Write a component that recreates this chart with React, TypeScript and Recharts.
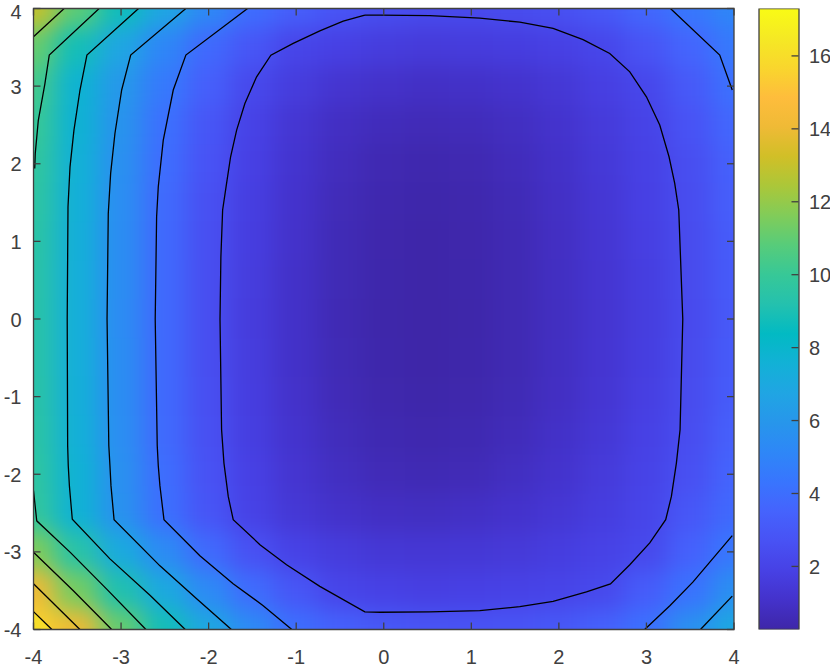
import { Bar, ComposedChart, Scatter, ScatterChart, XAxis, YAxis } from 'recharts';

const gridX = [-4, -3.5, -3, -2.5, -2, -1.5, -1, -0.5, 0, 0.5, 1, 1.5, 2, 2.5, 3, 3.5, 4];
const gridY = [4, 3.5, 3, 2.5, 2, 1.5, 1, 0.5, 0, -0.5, -1, -1.5, -2, -2.5, -3, -3.5, -4];

// surface values, one row per gridY entry
const heatRows = [
  [13.0, 10.9, 8.7, 6.8, 5.27, 3.95, 3.3, 2.8, 2.5, 2.3, 2.3, 2.4, 2.6, 3.0, 3.7, 4.4, 5.1],
  [11.1, 8.8, 6.8, 5.1, 3.8, 2.9, 2.1, 1.85, 1.65, 1.55, 1.6, 1.7, 1.85, 2.15, 2.8, 3.6, 4.5],
  [10.3, 7.75, 6.05, 4.5, 3.3, 2.25, 1.65, 1.25, 1.05, 0.95, 1.0, 1.15, 1.4, 1.8, 2.2, 3.1, 4.1],
  [10.0, 7.7, 5.8, 4.1, 2.9, 1.95, 1.3, 0.9, 0.7, 0.62, 0.68, 0.85, 1.15, 1.55, 2.0, 2.75, 3.7],
  [9.75, 7.55, 5.6, 3.95, 2.75, 1.85, 1.2, 0.75, 0.5, 0.42, 0.48, 0.7, 1.0, 1.45, 1.9, 2.5, 3.4],
  [9.6, 7.5, 5.5, 3.85, 2.6, 1.75, 1.1, 0.65, 0.4, 0.33, 0.38, 0.6, 0.95, 1.35, 1.85, 2.45, 3.3],
  [9.5, 7.45, 5.45, 3.8, 2.55, 1.7, 1.05, 0.6, 0.36, 0.3, 0.36, 0.55, 0.9, 1.3, 1.8, 2.4, 3.2],
  [9.45, 7.4, 5.45, 3.8, 2.5, 1.65, 1.0, 0.58, 0.33, 0.28, 0.33, 0.53, 0.87, 1.27, 1.75, 2.35, 3.15],
  [9.4, 7.4, 5.4, 3.8, 2.5, 1.6, 1.0, 0.55, 0.32, 0.27, 0.32, 0.52, 0.85, 1.25, 1.72, 2.33, 3.1],
  [9.4, 7.4, 5.45, 3.8, 2.5, 1.65, 1.0, 0.58, 0.33, 0.28, 0.33, 0.53, 0.87, 1.27, 1.75, 2.35, 3.15],
  [9.45, 7.45, 5.45, 3.8, 2.55, 1.7, 1.05, 0.62, 0.38, 0.32, 0.38, 0.58, 0.9, 1.3, 1.8, 2.4, 3.2],
  [9.5, 7.5, 5.5, 3.85, 2.6, 1.75, 1.15, 0.72, 0.47, 0.4, 0.47, 0.68, 1.0, 1.4, 1.88, 2.47, 3.35],
  [9.6, 7.65, 5.6, 3.95, 2.7, 1.85, 1.25, 0.85, 0.62, 0.55, 0.62, 0.85, 1.15, 1.55, 2.0, 2.6, 3.55],
  [9.8, 7.65, 5.7, 4.05, 2.85, 1.95, 1.4, 1.05, 0.9, 0.85, 0.95, 1.1, 1.35, 1.7, 2.1, 2.95, 3.8],
  [11.6, 9.4, 7.1, 5.35, 3.85, 2.65, 1.95, 1.6, 1.4, 1.35, 1.4, 1.5, 1.7, 1.95, 2.25, 3.4, 4.4],
  [14.1, 11.4, 9.1, 7.0, 5.3, 3.9, 2.9, 2.1, 1.9, 1.8, 1.85, 1.95, 2.05, 2.25, 3.2, 4.2, 5.55],
  [15.6, 14.0, 11.1, 8.8, 6.9, 5.3, 4.0, 3.4, 3.0, 2.8, 2.75, 2.8, 3.0, 3.4, 4.1, 5.6, 6.95],
];

const ticks = [-4, -3, -2, -1, 0, 1, 2, 3, 4];
const colorbarTicks = [2, 4, 6, 8, 10, 12, 14, 16];
const colorMin = 0.27;
const colorMax = 17.3;

const parula = [
  '#3e26a8', '#4432cb', '#4741e5', '#4852f4', '#4563fd', '#3875fe', '#2e87f7', '#2796eb',
  '#20a5e3', '#12b1d6', '#02bac3', '#24c1ae', '#37c897', '#57cc7a', '#81cc59', '#abc739',
  '#d1bf27', '#efba36', '#febd3c', '#f9d62d', '#f5e924', '#f9fb15',
];

// contour lines, [x, y]
const contourInner = [
  [-0.216, 3.914], [-0.463, 3.837], [-0.73, 3.712], [-1.034, 3.55], [-1.289, 3.399], [-1.452, 3.12], [-1.586, 2.777],
  [-1.68, 2.434], [-1.749, 2.09], [-1.795, 1.748], [-1.84, 1.404], [-1.86, 0.8], [-1.87, 0], [-1.852, -1.427],
  [-1.825, -1.856], [-1.776, -2.286], [-1.719, -2.586], [-1.414, -2.907], [-1.11, -3.165], [-0.73, -3.444],
  [-0.216, -3.773], [-0.04, -3.778], [0.526, -3.773], [1.097, -3.757], [1.554, -3.705], [1.934, -3.637],
  [2.315, -3.516], [2.589, -3.413], [2.81, -3.165], [3.038, -2.885], [3.22, -2.586], [3.285, -2.286],
  [3.342, -1.856], [3.384, -1.427], [3.415, 0], [3.369, 1.404], [3.323, 1.748], [3.258, 2.09], [3.152, 2.498],
  [3.0, 2.862], [2.81, 3.184], [2.581, 3.421], [2.276, 3.6], [1.934, 3.743], [1.554, 3.824], [1.097, 3.875],
  [0.526, 3.907], [-0.04, 3.914], [-0.216, 3.914],
];
const contourA = [
  [-1.555, 4], [-2.26, 3.4], [-2.404, 2.95], [-2.518, 2.305], [-2.575, 1.704], [-2.594, 1.318], [-2.61, 0],
  [-2.587, -1.63], [-2.575, -1.89], [-2.556, -2.15], [-2.51, -2.585], [-2.1, -3.05], [-1.72, -3.41], [-1.38, -3.69], [-1.05, -4],
];
const contourB = [
  [-2.26, 4], [-2.89, 3.4], [-2.993, 2.95], [-3.07, 2.39], [-3.119, 1.876], [-3.146, 1.36], [-3.16, 0], [-3.14, -1.63],
  [-3.127, -1.89], [-3.115, -2.15], [-3.08, -2.585], [-2.556, -3.18], [-2.14, -3.6], [-1.74, -4],
];
const contourC = [
  [-2.8, 4], [-3.39, 3.4], [-3.469, 2.95], [-3.538, 2.434], [-3.583, 1.96], [-3.606, 1.447], [-3.615, 0], [-3.61, -1.63],
  [-3.603, -1.89], [-3.59, -2.15], [-3.557, -2.58], [-3.127, -3.09], [-2.67, -3.56], [-2.267, -4],
];
const contourD = [[-3.25, 4], [-3.82, 3.4], [-3.87, 3.03], [-3.945, 2.56], [-3.98, 2.13], [-3.986, 1.94]];
const contourE = [[-4, -2.21], [-3.963, -2.6], [-3.58, -3.006], [-3.164, -3.48], [-2.716, -4]];
const contourF = [[-3.65, 4], [-4, 3.635]];
const contourG = [[-4, -3.006], [-3.545, -3.5], [-3.107, -4]];
const contourH = [[-4, -3.41], [-3.47, -4]];
const contourI = [[-4, -3.77], [-3.79, -4]];
const contourJ = [[3.274, 4], [3.837, 3.4], [3.98, 2.95]];
const contourK = [[3.98, -2.79], [3.53, -3.39], [3.27, -3.69], [2.98, -4]];
const contourL = [[3.98, -3.57], [3.617, -4]];

const contours = [
  contourInner, contourA, contourB, contourC, contourD, contourE, contourF,
  contourG, contourH, contourI, contourJ, contourK, contourL,
];

// the small yellow peak in the lower left corner, under the last contour
const peakBand = [[-4, -3.885], [-3.895, -4]];
const frame = [[-4, -4], [4, -4], [4, 4], [-4, 4], [-4, -4]];

const colorbarData = [{ name: 'c', range: [colorMin, colorMax] }];

const cellW = 700.5 / 16;
const cellH = 621 / 16;
const tickLen = 7;
const axisStroke = 1.3;
const textColor = '#404040';
const fontFamily = '"Liberation Sans", Arial, sans-serif';

const toChannels = (hex: string) => [1, 3, 5].map((i) => parseInt(hex.slice(i, i + 2), 16));
const toPoints = (points: number[][]) => points.map(([x, y]) => ({ x, y }));

function valueColor(v: number) {
  const t = Math.min(Math.max((v - colorMin) / (colorMax - colorMin), 0), 1) * (parula.length - 1);
  const i = Math.min(Math.floor(t), parula.length - 2);
  const a = toChannels(parula[i]);
  const b = toChannels(parula[i + 1]);
  const c = a.map((ch, k) => Math.round(ch + (b[k] - ch) * (t - i)));
  return `rgb(${c[0]},${c[1]},${c[2]})`;
}

const heatCells = gridY.flatMap((y, r) => gridX.map((x, c) => ({ x, y, z: heatRows[r][c] })));

function HeatCell(props: any) {
  const { cx, cy, payload } = props;
  return (
    <rect
      x={cx - cellW / 2 - 0.5}
      y={cy - cellH / 2 - 0.5}
      width={cellW + 1}
      height={cellH + 1}
      fill={valueColor(payload.z)}
    />
  );
}

const NoMark = () => null;

// inward tick marks, drawn as scatter shapes at the axis positions
const tickShape = (dx: number, dy: number) => (props: any) => (
  <line x1={props.cx} y1={props.cy} x2={props.cx + dx * tickLen} y2={props.cy + dy * tickLen} stroke={textColor} strokeWidth={axisStroke} />
);
const UpTick = tickShape(0, -1);
const DownTick = tickShape(0, 1);
const RightTick = tickShape(1, 0);
const LeftwardTick = tickShape(-1, 0);

function Label({ x, y, anchor, value }: { x: number; y: number; anchor: 'start' | 'middle' | 'end'; value: number }) {
  return (
    <text x={x} y={y} textAnchor={anchor} fill={textColor} fontSize={20} fontFamily={fontFamily}>
      {value}
    </text>
  );
}

const BottomTick = (p: any) => <Label x={p.x} y={p.y} anchor="middle" value={p.payload.value} />;
const LeftTick = (p: any) => <Label x={p.x} y={p.y + (p.payload.value === 4 ? 10 : 7.5)} anchor="end" value={p.payload.value} />;

function ColorbarTick(p: any) {
  return (
    <g>
      <line x1={p.cx} y1={p.cy} x2={p.cx - tickLen} y2={p.cy} stroke={textColor} strokeWidth={axisStroke} />
      <Label x={p.cx + 10.5} y={p.cy + 7.5} anchor="start" value={p.payload.y} />
    </g>
  );
}

const layer = { position: 'absolute', left: 0, top: 0 } as const;

export default function App() {
  return (
    <div style={{ position: 'absolute', left: 0, top: 0, width: 830, height: 666, overflow: 'hidden', background: '#fff' }}>
      <style>{'.heat-layer { filter: url(#smooth); }'}</style>
      <svg width={0} height={0} style={{ position: 'absolute' }}>
        <defs>
          <filter id="smooth" filterUnits="userSpaceOnUse" x={-40} y={-40} width={910} height={746} colorInterpolationFilters="sRGB">
            <feGaussianBlur stdDeviation="12 11" />
            <feComponentTransfer>
              <feFuncA type="linear" slope={30} />
            </feComponentTransfer>
          </filter>
        </defs>
      </svg>

      {/* surface and contours */}
      <div style={layer}>
        <ScatterChart width={830} height={666} margin={{ top: 8.5, right: 96, bottom: 36.5, left: 33.5 }}>
          <XAxis hide type="number" dataKey="x" domain={[-4, 4]} allowDataOverflow />
          <YAxis hide type="number" dataKey="y" domain={[-4, 4]} allowDataOverflow />
          <Scatter data={heatCells} shape={HeatCell} className="heat-layer" isAnimationActive={false} />
          <Scatter
            data={toPoints(peakBand)}
            line={{ stroke: '#f7dd2a', strokeWidth: 13, strokeLinecap: 'square' }}
            shape={NoMark}
            isAnimationActive={false}
          />
          {contours.map((points, i) => (
            <Scatter
              key={i}
              data={toPoints(points)}
              line={{ stroke: '#000', strokeWidth: 1.3 }}
              shape={NoMark}
              isAnimationActive={false}
            />
          ))}
        </ScatterChart>
      </div>

      {/* colorbar */}
      <div style={layer}>
        <ComposedChart
          width={830}
          height={666}
          data={colorbarData}
          barCategoryGap={0}
          margin={{ top: 8.5, right: 31.5, bottom: 36.5, left: 759 }}
        >
          <defs>
            <linearGradient id="cbar" x1="0" y1="1" x2="0" y2="0">
              {parula.map((c, i) => (
                <stop key={c} offset={i / (parula.length - 1)} stopColor={c} />
              ))}
            </linearGradient>
          </defs>
          <XAxis dataKey="name" hide />
          <YAxis hide type="number" domain={[colorMin, colorMax]} allowDataOverflow />
          <Bar dataKey="range" fill="url(#cbar)" stroke={textColor} strokeWidth={axisStroke} isAnimationActive={false} />
        </ComposedChart>
      </div>

      {/* frame, ticks and labels sit in a chart of their own, above the surface */}
      <div style={layer}>
        <ScatterChart width={830} height={666} margin={{ top: 8.5, right: 96, bottom: 0, left: 0 }}>
          <XAxis
            type="number"
            dataKey="x"
            domain={[-4, 4]}
            ticks={ticks}
            interval={0}
            height={36.5}
            tickLine={false}
            axisLine={false}
            tickMargin={28.3}
            tick={BottomTick}
          />
          <YAxis
            type="number"
            dataKey="y"
            domain={[-4, 4]}
            ticks={ticks}
            interval={0}
            width={33.5}
            tickLine={false}
            axisLine={false}
            tickMargin={6}
            tick={LeftTick}
          />
          <Scatter data={toPoints(frame)} line={{ stroke: textColor, strokeWidth: axisStroke }} shape={NoMark} isAnimationActive={false} />
          <Scatter data={ticks.map((x) => ({ x, y: -4 }))} shape={UpTick} isAnimationActive={false} />
          <Scatter data={ticks.map((x) => ({ x, y: 4 }))} shape={DownTick} isAnimationActive={false} />
          <Scatter data={ticks.map((y) => ({ x: -4, y }))} shape={RightTick} isAnimationActive={false} />
          <Scatter data={ticks.map((y) => ({ x: 4, y }))} shape={LeftwardTick} isAnimationActive={false} />
        </ScatterChart>
      </div>
      <div style={layer}>
        <ScatterChart width={830} height={666} margin={{ top: 8.5, right: 31.5, bottom: 36.5, left: 759 }}>
          <XAxis hide type="number" dataKey="x" domain={[0, 1]} />
          <YAxis hide type="number" dataKey="y" domain={[colorMin, colorMax]} />
          <Scatter data={colorbarTicks.map((y) => ({ x: 1, y }))} shape={ColorbarTick} isAnimationActive={false} />
        </ScatterChart>
      </div>
    </div>
  );
}
